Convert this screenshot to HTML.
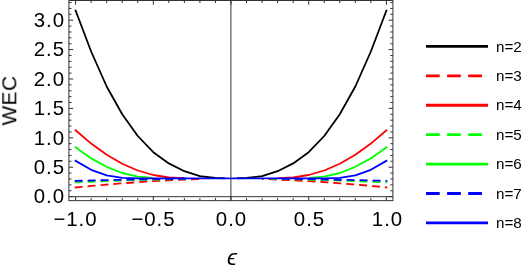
<!DOCTYPE html>
<html><head><meta charset="utf-8"><title>WEC plot</title><style>
html,body{margin:0;padding:0;background:#fff}
body{width:523px;height:267px;position:relative;overflow:hidden;font-family:"Liberation Sans",sans-serif;color:#000}
.t,.lg{will-change:transform;-webkit-font-smoothing:antialiased}
.t{position:absolute;white-space:nowrap;line-height:1;font-size:20.40px;letter-spacing:0.95px}
.yl{text-align:right;width:60px;left:5.35px}
.xl{text-align:center;width:80px;top:209.00px;text-indent:0.95px}
.lg{position:absolute;white-space:nowrap;line-height:1;font-size:15.20px;left:495.60px;letter-spacing:0.00px}
</style></head><body>
<svg width="523" height="267" viewBox="0 0 523 267" style="position:absolute;left:0;top:0">
<rect width="523" height="267" fill="#fff"/>
<g fill="none" stroke-width="1.80" stroke-linecap="square" stroke-linejoin="round">
<clipPath id="cn2"><rect x="0" y="0" width="225.00" height="267"/><rect x="237.00" y="0" width="286.00" height="267"/></clipPath>
<path d="M75.60 10.60L91.14 51.50L106.68 86.50L122.22 114.20L137.76 136.00L153.30 152.20L168.84 163.40L184.38 171.20L199.92 176.10L215.46 178.00L231.00 178.40L246.54 178.00L262.08 176.10L277.62 171.20L293.16 163.40L308.70 152.20L324.24 136.00L339.78 114.20L355.32 86.50L370.86 51.50L386.40 10.60" stroke="#000000" clip-path="url(#cn2)"/>
<clipPath id="cn3"><rect x="0" y="0" width="200.00" height="267"/><rect x="262.00" y="0" width="261.00" height="267"/></clipPath>
<path d="M75.60 187.40L91.14 185.92L106.68 184.56L122.22 183.31L137.76 182.18L153.30 181.17L168.84 180.30L184.38 179.56L199.92 178.98L215.46 178.58L231.00 178.40L246.54 178.58L262.08 178.98L277.62 179.56L293.16 180.30L308.70 181.17L324.24 182.18L339.78 183.31L355.32 184.56L370.86 185.92L386.40 187.40" stroke="#ff0000" stroke-dasharray="6.2 6.75" clip-path="url(#cn3)"/>
<clipPath id="cn4"><rect x="0" y="0" width="184.00" height="267"/><rect x="278.00" y="0" width="245.00" height="267"/></clipPath>
<path d="M75.60 130.30L91.14 143.60L106.68 154.70L122.22 163.70L137.76 170.50L153.30 175.00L168.84 177.50L184.38 178.20L199.92 178.40L215.46 178.40L231.00 178.40L246.54 178.40L262.08 178.40L277.62 178.20L293.16 177.50L308.70 175.00L324.24 170.50L339.78 163.70L355.32 154.70L370.86 143.60L386.40 130.30" stroke="#ff0000" clip-path="url(#cn4)"/>
<clipPath id="cn5"><rect x="0" y="0" width="191.00" height="267"/><rect x="271.00" y="0" width="252.00" height="267"/></clipPath>
<path d="M75.60 182.40L91.14 181.74L106.68 181.14L122.22 180.58L137.76 180.08L153.30 179.63L168.84 179.24L184.38 178.92L199.92 178.66L215.46 178.48L231.00 178.40L246.54 178.48L262.08 178.66L277.62 178.92L293.16 179.24L308.70 179.63L324.24 180.08L339.78 180.58L355.32 181.14L370.86 181.74L386.40 182.40" stroke="#00ff00" stroke-dasharray="6.2 6.75" clip-path="url(#cn5)"/>
<clipPath id="cn6"><rect x="0" y="0" width="153.00" height="267"/><rect x="309.00" y="0" width="214.00" height="267"/></clipPath>
<path d="M75.60 147.20L91.14 158.40L106.68 166.80L122.22 173.00L137.76 176.60L153.30 178.00L168.84 178.40L184.38 178.40L199.92 178.40L215.46 178.40L231.00 178.40L246.54 178.40L262.08 178.40L277.62 178.40L293.16 178.40L308.70 178.00L324.24 176.60L339.78 173.00L355.32 166.80L370.86 158.40L386.40 147.20" stroke="#00ff00" clip-path="url(#cn6)"/>
<clipPath id="cn7"><rect x="0" y="0" width="186.00" height="267"/><rect x="276.00" y="0" width="247.00" height="267"/></clipPath>
<path d="M75.60 180.90L91.14 180.49L106.68 180.11L122.22 179.76L137.76 179.45L153.30 179.17L168.84 178.93L184.38 178.72L199.92 178.56L215.46 178.45L231.00 178.40L246.54 178.45L262.08 178.56L277.62 178.72L293.16 178.93L308.70 179.17L324.24 179.45L339.78 179.76L355.32 180.11L370.86 180.49L386.40 180.90" stroke="#0000ff" stroke-dasharray="6.2 6.75" clip-path="url(#cn7)"/>
<path d="M75.60 160.80L91.14 169.80L106.68 175.40L122.22 177.80L137.76 178.40L153.30 178.40L168.84 178.40L184.38 178.40L199.92 178.40L215.46 178.40L231.00 178.40L246.54 178.40L262.08 178.40L277.62 178.40L293.16 178.40L308.70 178.40L324.24 178.40L339.78 177.80L355.32 175.40L370.86 169.80L386.40 160.80" stroke="#0000ff"/>
</g>
<g stroke="#333333" stroke-width="1.00" fill="none">
<path d="M230.90 0.50V200.65"/>
<path d="M68.90 196.70H392.90"/>
</g>
<g stroke="#333333" stroke-width="1.00" fill="none">
<rect x="68.90" y="0.50" width="324.00" height="200.15"/>
<path d="M75.60 200.65v-4.30M75.60 0.50v4.30M91.14 200.65v-2.60M91.14 0.50v2.60M106.68 200.65v-2.60M106.68 0.50v2.60M122.22 200.65v-2.60M122.22 0.50v2.60M137.76 200.65v-2.60M137.76 0.50v2.60M153.30 200.65v-4.30M153.30 0.50v4.30M168.84 200.65v-2.60M168.84 0.50v2.60M184.38 200.65v-2.60M184.38 0.50v2.60M199.92 200.65v-2.60M199.92 0.50v2.60M215.46 200.65v-2.60M215.46 0.50v2.60M231.00 200.65v-4.30M231.00 0.50v4.30M246.54 200.65v-2.60M246.54 0.50v2.60M262.08 200.65v-2.60M262.08 0.50v2.60M277.62 200.65v-2.60M277.62 0.50v2.60M293.16 200.65v-2.60M293.16 0.50v2.60M308.70 200.65v-4.30M308.70 0.50v4.30M324.24 200.65v-2.60M324.24 0.50v2.60M339.78 200.65v-2.60M339.78 0.50v2.60M355.32 200.65v-2.60M355.32 0.50v2.60M370.86 200.65v-2.60M370.86 0.50v2.60M386.40 200.65v-4.30M386.40 0.50v4.30M68.90 196.60h4.30M392.90 196.60h-4.30M68.90 190.72h2.60M392.90 190.72h-2.60M68.90 184.84h2.60M392.90 184.84h-2.60M68.90 178.96h2.60M392.90 178.96h-2.60M68.90 173.08h2.60M392.90 173.08h-2.60M68.90 167.20h4.30M392.90 167.20h-4.30M68.90 161.32h2.60M392.90 161.32h-2.60M68.90 155.44h2.60M392.90 155.44h-2.60M68.90 149.56h2.60M392.90 149.56h-2.60M68.90 143.68h2.60M392.90 143.68h-2.60M68.90 137.80h4.30M392.90 137.80h-4.30M68.90 131.92h2.60M392.90 131.92h-2.60M68.90 126.04h2.60M392.90 126.04h-2.60M68.90 120.16h2.60M392.90 120.16h-2.60M68.90 114.28h2.60M392.90 114.28h-2.60M68.90 108.40h4.30M392.90 108.40h-4.30M68.90 102.52h2.60M392.90 102.52h-2.60M68.90 96.64h2.60M392.90 96.64h-2.60M68.90 90.76h2.60M392.90 90.76h-2.60M68.90 84.88h2.60M392.90 84.88h-2.60M68.90 79.00h4.30M392.90 79.00h-4.30M68.90 73.12h2.60M392.90 73.12h-2.60M68.90 67.24h2.60M392.90 67.24h-2.60M68.90 61.36h2.60M392.90 61.36h-2.60M68.90 55.48h2.60M392.90 55.48h-2.60M68.90 49.60h4.30M392.90 49.60h-4.30M68.90 43.72h2.60M392.90 43.72h-2.60M68.90 37.84h2.60M392.90 37.84h-2.60M68.90 31.96h2.60M392.90 31.96h-2.60M68.90 26.08h2.60M392.90 26.08h-2.60M68.90 20.20h4.30M392.90 20.20h-4.30M68.90 14.32h2.60M392.90 14.32h-2.60M68.90 8.44h2.60M392.90 8.44h-2.60M68.90 2.56h2.60M392.90 2.56h-2.60"/>
</g>
<path d="M427.40 46.40H486.60" stroke="#000000" stroke-width="2.80" stroke-linecap="square" fill="none"/>
<path d="M427.40 75.82H486.60" stroke="#ff0000" stroke-width="2.80" stroke-linecap="square" fill="none" stroke-dasharray="10.9 10.2"/>
<path d="M427.40 105.24H486.60" stroke="#ff0000" stroke-width="2.80" stroke-linecap="square" fill="none"/>
<path d="M427.40 134.66H486.60" stroke="#00ff00" stroke-width="2.80" stroke-linecap="square" fill="none" stroke-dasharray="10.9 10.2"/>
<path d="M427.40 164.08H486.60" stroke="#00ff00" stroke-width="2.80" stroke-linecap="square" fill="none"/>
<path d="M427.40 193.50H486.60" stroke="#0000ff" stroke-width="2.80" stroke-linecap="square" fill="none" stroke-dasharray="10.9 10.2"/>
<path d="M427.40 222.92H486.60" stroke="#0000ff" stroke-width="2.80" stroke-linecap="square" fill="none"/>
</svg>
<div class="t yl" style="top:186.30px">0.0</div>
<div class="t yl" style="top:156.90px">0.5</div>
<div class="t yl" style="top:127.50px">1.0</div>
<div class="t yl" style="top:98.10px">1.5</div>
<div class="t yl" style="top:68.70px">2.0</div>
<div class="t yl" style="top:39.30px">2.5</div>
<div class="t yl" style="top:9.90px">3.0</div>
<div class="t xl" style="left:34.85px">−1.0</div>
<div class="t xl" style="left:112.55px">−0.5</div>
<div class="t xl" style="left:191.00px">0.0</div>
<div class="t xl" style="left:268.70px">0.5</div>
<div class="t xl" style="left:346.90px">1.0</div>
<div class="t" style="left:226.50px;top:247.40px;font-style:italic;font-size:22.60px;letter-spacing:0">ϵ</div>
<div class="t" style="left:0;top:0;width:80px;text-align:center;transform-origin:0 0;transform:translate(-0.70px,140.70px) rotate(-90deg);font-size:20.80px;letter-spacing:0.50px;text-indent:0.50px">WEC</div>
<div class="lg" style="top:38.60px">n=2</div>
<div class="lg" style="top:68.02px">n=3</div>
<div class="lg" style="top:97.44px">n=4</div>
<div class="lg" style="top:126.86px">n=5</div>
<div class="lg" style="top:156.28px">n=6</div>
<div class="lg" style="top:185.70px">n=7</div>
<div class="lg" style="top:215.12px">n=8</div>
</body></html>
